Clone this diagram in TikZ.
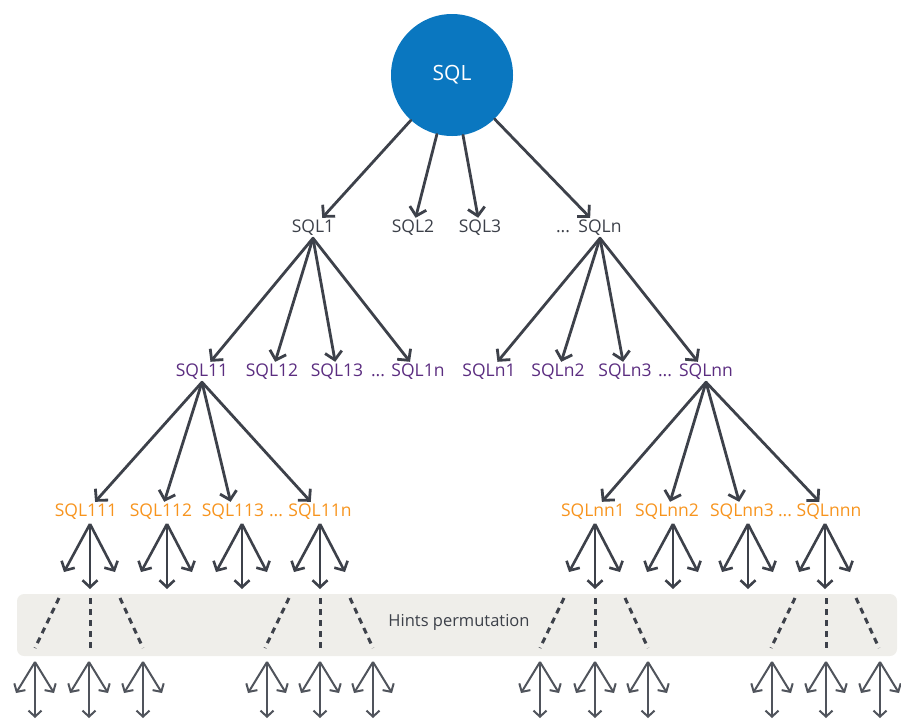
\documentclass[tikz,border=0pt]{standalone}
\usepackage{fontspec}
\setmainfont{Open Sans}
\usetikzlibrary{arrows.meta}
\definecolor{sqlblue}{HTML}{0A77C0}
\definecolor{linegray}{HTML}{3D414A}
\definecolor{txtgray}{HTML}{3C4049}
\definecolor{txtpurple}{HTML}{5B2D80}
\definecolor{txtorange}{HTML}{F7941E}
\definecolor{bandgray}{HTML}{EFEEEA}
\begin{document}
\begin{tikzpicture}[x=1pt,y=-1pt,
  arr/.style={draw=linegray, line width=2.8pt, line cap=round,
    -{Straight Barb[length=8pt,width=17pt,line width=2.8pt]}},
  sarr/.style={draw=linegray, line width=2.6pt,
    -{Straight Barb[length=7pt,width=15pt,line width=2.6pt]}},
  tarr/.style={draw=linegray!90, line width=2pt,
    -{Straight Barb[length=6pt,width=13pt,line width=2pt]}},
  dsh/.style={draw=linegray, line width=3pt, dash pattern=on 6pt off 5pt},
  lab/.style={inner sep=2pt, text height=12.5pt, text depth=3.5pt, font=\fontsize{17.5}{19}\selectfont},
  l1/.style={lab, text=txtgray},
  l2/.style={lab, text=txtpurple},
  l3/.style={lab, text=txtorange},
]
\useasboundingbox (0,0) rectangle (901,721);

% band
\node[fill=bandgray, rounded corners=7pt, minimum width=880pt, minimum height=62pt, inner sep=0pt] (band) at (457,625) {};
\node[lab, text=txtgray, font=\fontsize{16.5}{18}\selectfont] (hints) at (459,622) {Hints permutation};

% root
\node[circle, fill=sqlblue, minimum size=122pt, inner sep=0pt, text=white,
      font=\fontsize{21}{23}\selectfont] (sql) at (452,75) {SQL};

% level 1
\node[l1] (s1) at (313,228) {SQL1};
\node[l1] (s2) at (413,228) {SQL2};
\node[l1] (s3) at (480,228) {SQL3};
\node[l1] (d1) at (563,228) {...};
\node[l1] (sn) at (600,228) {SQLn};

\foreach \t in {s1,s2,s3,sn} \draw[arr] (sql) -- (\t);

% level 2
\node[l2] (s11) at (202,372) {SQL11};
\node[l2] (s12) at (272,372) {SQL12};
\node[l2] (s13) at (337,372) {SQL13};
\node[l2] (d2) at (378,372) {...};
\node[l2] (s1n) at (418,372) {SQL1n};
\node[l2] (sn1) at (489,372) {SQLn1};
\node[l2] (sn2) at (558,372) {SQLn2};
\node[l2] (sn3) at (625,372) {SQLn3};
\node[l2] (d3) at (665,372) {...};
\node[l2] (snn) at (706,372) {SQLnn};

\foreach \t in {s11,s12,s13,s1n} \draw[arr] (s1.south) -- (\t);
\foreach \t in {sn1,sn2,sn3,snn} \draw[arr] (sn.south) -- (\t);

% level 3
\node[l3] (s111) at (86,512) {SQL111};
\node[l3] (s112) at (161,512) {SQL112};
\node[l3] (s113) at (233,512) {SQL113};
\node[l3] (d4) at (276,512) {...};
\node[l3] (s11n) at (320,512) {SQL11n};
\node[l3] (snn1) at (593,512) {SQLnn1};
\node[l3] (snn2) at (667,512) {SQLnn2};
\node[l3] (snn3) at (742,512) {SQLnn3};
\node[l3] (d5) at (785,512) {...};
\node[l3] (snnn) at (829,512) {SQLnnn};

\foreach \t in {s111,s112,s113,s11n} \draw[arr] (s11.south) -- (\t);
\foreach \t in {snn1,snn2,snn3,snnn} \draw[arr] (snn.south) -- (\t);

% fans under level 3
\foreach \n/\x in {f1/90,f2/167,f3/242,f4/320,f5/595,f6/673,f7/748,f8/825}{
  \coordinate (\n a) at (\x,524);
  \coordinate (\n l) at (\x-26,572);
  \coordinate (\n m) at (\x,589);
  \coordinate (\n r) at (\x+25,572);
  \draw[sarr] (\n a) -- (\n l);
  \draw[sarr] (\n a) -- (\n m);
  \draw[sarr] (\n a) -- (\n r);
}

% dashed lines in band
\foreach \n/\x in {g1/90,g2/320,g3/595,g4/826}{
  \coordinate (\n lt) at (\x-31,598); \coordinate (\n lb) at (\x-55,648);
  \coordinate (\n mt) at (\x,598);    \coordinate (\n mb) at (\x,651);
  \coordinate (\n rt) at (\x+30,598); \coordinate (\n rb) at (\x+53,648);
  \draw[dsh] (\n lt) -- (\n lb);
  \draw[dsh] (\n mt) -- (\n mb);
  \draw[dsh] (\n rt) -- (\n rb);
}

% bottom small fans
\foreach \n/\x in {h1/35,h2/89,h3/143,h4/267,h5/320,h6/373,h7/540,h8/595,h9/648,h10/772,h11/826,h12/880}{
  \coordinate (\n a) at (\x,662);
  \coordinate (\n l) at (\x-19,693);
  \coordinate (\n m) at (\x,718);
  \coordinate (\n r) at (\x+19,693);
  \draw[tarr] (\n a) -- (\n l);
  \draw[tarr] (\n a) -- (\n m);
  \draw[tarr] (\n a) -- (\n r);
}
\end{tikzpicture}
\end{document}
